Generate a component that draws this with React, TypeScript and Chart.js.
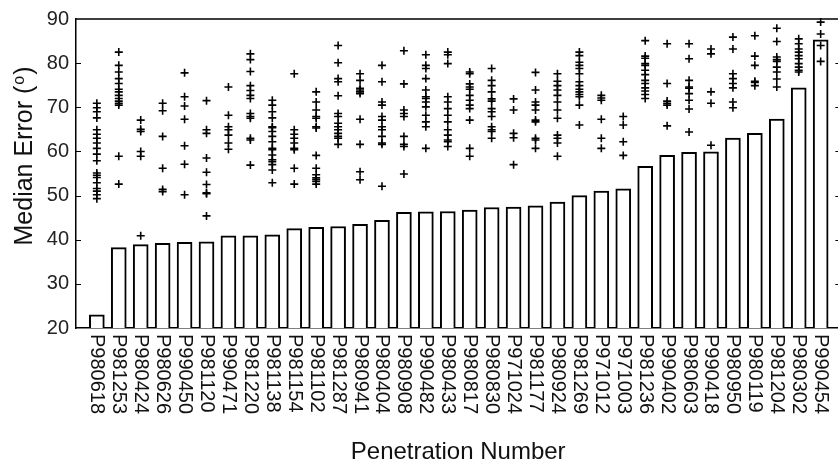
import React, { useEffect, useRef } from 'react';
import { Chart, registerables } from 'chart.js';

Chart.register(...registerables);

const penetrationIds = [
  'P980618', 'P981253', 'P980424', 'P980626', 'P990450', 'P981120', 'P990471', 'P981220',
  'P981138', 'P981154', 'P981102', 'P981287', 'P980941', 'P980404', 'P980908', 'P990482',
  'P980433', 'P980817', 'P980830', 'P971024', 'P981177', 'P980924', 'P981269', 'P971012',
  'P971003', 'P981236', 'P990402', 'P980603', 'P990418', 'P980950', 'P980119', 'P981204',
  'P980302', 'P990454',
];

const medianErrors = [
  23, 38.2, 38.9, 39.2, 39.4, 39.5, 40.9, 40.9, 41.1, 42.5, 42.8, 43.0, 43.5, 44.4, 46.2, 46.3,
  46.4, 46.7, 47.3, 47.4, 47.7, 48.5, 50.0, 51.0, 51.5, 56.6, 59.1, 59.8, 59.9, 63.0, 64.1, 67.3,
  74.4, 85.3,
];

const trialErrors: number[][] = [
  [70.9, 69.9, 69.0, 67.6, 64.9, 63.9, 63.0, 61.9, 60.7, 59.4, 57.9, 55.1, 54.6, 54.1, 52.9, 51.6, 51.0, 50.2, 49.3],
  [82.5, 79.5, 78.0, 76.5, 75.4, 74.1, 73.5, 72.7, 72.0, 71.4, 70.9, 70.5, 58.9, 52.6],
  [67.1, 65.0, 64.5, 60.0, 58.9, 40.9],
  [70.9, 69.2, 63.4, 56.2, 51.4, 50.9],
  [77.8, 72.4, 70.3, 67.3, 61.3, 57.1, 50.2],
  [71.5, 64.9, 64.1, 58.5, 55.3, 52.5, 50.6, 50.4, 45.4],
  [74.6, 68.2, 65.6, 64.9, 63.7, 61.9, 60.5],
  [82.1, 80.8, 78.1, 74.9, 73.8, 72.7, 72.0, 68.6, 67.9, 67.5, 63.0, 62.6, 56.9],
  [71.6, 70.5, 69.0, 67.6, 65.6, 65.4, 64.5, 63.4, 62.2, 60.7, 60.4, 59.2, 58.1, 57.7, 57.0, 55.8, 52.9],
  [77.6, 64.9, 63.9, 63.0, 61.9, 60.7, 60.4, 56.2, 52.6],
  [73.5, 71.2, 69.4, 67.9, 67.5, 65.6, 65.3, 59.1, 56.2, 54.7, 54.0, 53.6, 53.2, 52.6],
  [84.0, 80.1, 76.5, 75.8, 72.6, 68.6, 67.9, 66.4, 65.6, 64.9, 64.1, 63.4, 63.0, 61.6],
  [77.6, 76.1, 74.3, 73.9, 73.5, 73.1, 67.3, 61.6, 55.4, 53.6],
  [79.5, 75.8, 71.2, 70.5, 67.9, 67.1, 65.6, 64.9, 63.4, 61.9, 61.6, 52.1],
  [82.8, 75.3, 69.4, 68.6, 67.9, 63.4, 61.6, 61.1, 54.9],
  [81.9, 79.5, 78.8, 76.5, 73.9, 72.4, 72.0, 71.2, 70.1, 68.2, 66.7, 65.6, 60.7],
  [82.5, 81.9, 79.9, 72.4, 71.2, 69.7, 68.2, 66.7, 64.9, 63.7, 62.6, 62.2, 61.1],
  [78.0, 77.6, 75.3, 74.6, 74.1, 72.7, 71.6, 70.5, 69.7, 67.1, 60.7, 58.9],
  [78.8, 76.1, 74.9, 73.5, 71.9, 71.4, 69.7, 69.0, 67.9, 65.6, 64.9, 64.5, 63.0],
  [71.9, 69.4, 64.1, 63.1, 57.0],
  [77.9, 73.9, 71.2, 70.5, 69.4, 67.1, 66.7, 63.0, 62.6, 60.7],
  [77.6, 75.9, 74.9, 73.9, 72.7, 71.2, 69.4, 67.5, 63.7, 63.0, 61.9, 58.9],
  [82.5, 81.7, 80.2, 79.5, 78.8, 77.6, 75.8, 74.9, 74.1, 73.5, 72.9, 72.4, 70.5, 66.0],
  [72.7, 72.1, 71.6, 67.3, 63.0, 60.7],
  [67.9, 66.0, 62.2, 59.1],
  [85.1, 81.6, 81.1, 79.9, 79.5, 78.4, 77.4, 76.1, 75.4, 74.4, 73.7, 72.9, 72.0],
  [84.4, 75.4, 71.4, 70.9, 70.5, 65.8],
  [84.4, 81.0, 76.1, 74.6, 74.3, 73.1, 71.6, 69.6, 64.4],
  [83.2, 82.1, 73.5, 70.9, 61.4],
  [85.9, 83.2, 77.6, 76.5, 75.4, 74.4, 71.2, 69.9],
  [86.2, 81.6, 79.5, 75.9, 75.6, 74.9],
  [87.9, 84.9, 81.4, 80.8, 80.4, 79.1, 78.0, 76.4, 74.6],
  [85.5, 84.4, 83.2, 82.5, 81.7, 81.0, 79.9, 79.1, 78.4, 78.0],
  [89.3, 86.6, 84.0, 80.4],
];

const yMin = 20;
const yMax = 90;
const yStep = 10;
const yTitleMain = 'Median Error (';
const yTitleSup = 'o';
const yTitleEnd = ')';
const xTitle = 'Penetration Number';

const FONT = '"Liberation Sans", Arial, Helvetica, sans-serif';

export default function App() {
  const ref = useRef<HTMLCanvasElement>(null);

  useEffect(() => {
    document.body.style.margin = '0';
    document.body.style.overflow = 'hidden';
    document.documentElement.style.overflow = 'hidden';
    const canvas = ref.current;
    if (!canvas) return;

    const overlay = {
      id: 'overlay',
      afterDraw(chart: any) {
        const { ctx, chartArea: a, scales } = chart;
        const xs = scales.x;
        const ys = scales.y;
        ctx.save();
        ctx.strokeStyle = '#000';
        ctx.lineWidth = 1.5;
        ctx.beginPath();
        ctx.moveTo(a.left, a.top);
        ctx.lineTo(a.right, a.top);
        ctx.lineTo(a.right, a.bottom);
        ctx.stroke();

        ctx.lineWidth = 1;
        ctx.beginPath();
        for (let v = yMin + yStep; v < yMax; v += yStep) {
          const py = Math.round(ys.getPixelForValue(v)) + 0.5;
          ctx.moveTo(a.left, py);
          ctx.lineTo(a.left + 5, py);
          ctx.moveTo(a.right, py);
          ctx.lineTo(a.right - 5, py);
        }
        ctx.stroke();

        // rotated category labels (reading top to bottom)
        ctx.fillStyle = '#111';
        ctx.font = `20px ${FONT}`;
        ctx.textAlign = 'left';
        ctx.textBaseline = 'middle';
        penetrationIds.forEach((id, i) => {
          const px = xs.getPixelForValue(i + 1);
          ctx.save();
          ctx.translate(px, a.bottom + 6);
          ctx.rotate(Math.PI / 2);
          ctx.fillText(id, 0, 0);
          ctx.restore();
        });

        // y axis title with superscript
        const mainFont = `25px ${FONT}`;
        const supFont = `16px ${FONT}`;
        ctx.font = mainFont;
        const w1 = ctx.measureText(yTitleMain).width;
        const w3 = ctx.measureText(yTitleEnd).width;
        ctx.font = supFont;
        const w2 = ctx.measureText(yTitleSup).width + 2;
        const total = w1 + w2 + w3;
        ctx.save();
        ctx.translate(31.5, 156);
        ctx.rotate(-Math.PI / 2);
        ctx.textBaseline = 'alphabetic';
        ctx.textAlign = 'left';
        let sx = -total / 2;
        ctx.font = mainFont;
        ctx.fillText(yTitleMain, sx, 0);
        sx += w1;
        ctx.font = supFont;
        ctx.fillText(yTitleSup, sx + 1, -8);
        sx += w2;
        ctx.font = mainFont;
        ctx.fillText(yTitleEnd, sx, 0);
        ctx.restore();

        ctx.restore();
      },
    };

    const chart = new Chart(canvas, {
      type: 'bar',
      data: {
        datasets: [
          {
            type: 'scatter',
            data: trialErrors.flatMap((vals, i) => vals.map((v) => ({ x: i + 1, y: v }))),
            pointStyle: 'cross',
            pointRadius: 4,
            pointBorderWidth: 1.6,
            borderColor: '#000',
            backgroundColor: '#000',
            showLine: false,
            clip: false,
            order: 0,
          } as any,
          {
            type: 'bar',
            data: medianErrors.map((v, i) => ({ x: i + 1, y: v })),
            backgroundColor: '#fff',
            borderColor: '#000',
            borderWidth: 2,
            barThickness: 15,
            order: 1,
          } as any,
        ],
      },
      options: {
        responsive: false,
        animation: false,
        events: [],
        layout: { padding: { top: 16, right: 4, left: 0, bottom: 0 } },
        plugins: { legend: { display: false }, tooltip: { enabled: false } },
        scales: {
          x: {
            type: 'linear',
            offset: false,
            min: 0.05,
            max: 34.9,
            ticks: { display: false },
            grid: { display: false, drawTicks: false, offset: false },
            border: { display: true, color: '#000', width: 1.5 },
            title: {
              display: true,
              text: xTitle,
              color: '#111',
              font: { family: FONT, size: 24 },
              padding: { top: 0, bottom: 3 },
            },
            afterFit: (s: any) => {
              s.height = 142;
            },
          },
          y: {
            min: yMin,
            max: yMax,
            ticks: {
              stepSize: yStep,
              color: '#222',
              font: { family: FONT, size: 20 },
              padding: 7,
            },
            grid: { display: false, drawTicks: false },
            border: { display: true, color: '#000', width: 1.5 },
            afterFit: (s: any) => {
              s.width = 76;
            },
          },
        },
      },
      plugins: [overlay],
    } as any);

    return () => chart.destroy();
  }, []);

  return (
    <div style={{ width: 846, height: 470, overflow: 'hidden' }}>
      <canvas ref={ref} width={846} height={470} style={{ display: 'block' }} />
    </div>
  );
}
